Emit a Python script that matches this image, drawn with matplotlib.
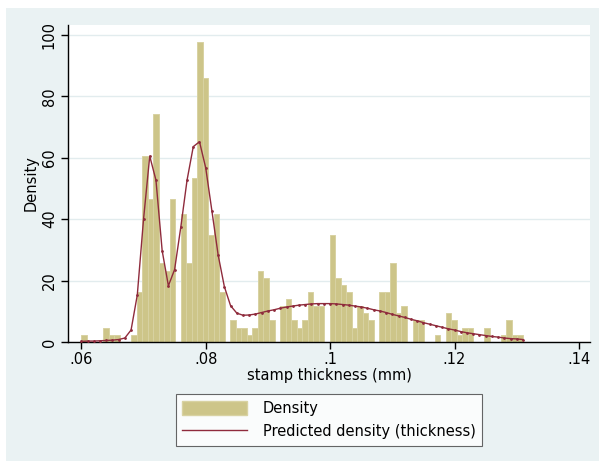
import numpy as np
import matplotlib
matplotlib.use('Agg')
import matplotlib.pyplot as plt
from matplotlib.patches import Rectangle, Patch
from matplotlib.lines import Line2D

# histogram: 80 bins from .060 to .131, heights
bin_start = 0.060
bin_end = 0.131
density = [
    2.3, 0, 0, 0, 4.6, 2.3, 2.3, 0, 0, 2.3,
    16.3, 60.4, 46.5, 74.3, 25.6, 23.2, 46.5, 0, 41.8, 25.6,
    53.4, 97.6, 86.0, 34.8, 41.8, 16.3, 0, 7.0, 4.6, 4.6,
    2.3, 4.6, 23.2, 20.9, 7.0, 0, 11.6, 13.9, 7.0, 4.6,
    7.0, 16.3, 11.6, 11.6, 0, 34.8, 20.9, 18.6, 16.3, 4.6,
    11.6, 9.3, 7.0, 0, 16.3, 16.3, 25.6, 9.3, 11.6, 0,
    7.0, 7.0, 0, 0, 2.3, 0, 9.3, 7.0, 2.3, 4.6,
    4.6, 0, 0, 4.6, 0, 0, 2.3, 7.0, 2.3, 2.3,
]

# predicted density from the mixture model, one point per .001 mm
thickness = [
    .060, .061, .062, .063, .064, .065, .066, .067, .068, .069,
    .070, .071, .072, .073, .074, .075, .076, .077, .078, .079,
    .080, .081, .082, .083, .084, .085, .086, .087, .088, .089,
    .090, .091, .092, .093, .094, .095, .096, .097, .098, .099,
    .100, .101, .102, .103, .104, .105, .106, .107, .108, .109,
    .110, .111, .112, .113, .114, .115, .116, .117, .118, .119,
    .120, .121, .122, .123, .124, .125, .126, .127, .128, .129,
    .130, .131,
]
predicted = [
    0.2, 0.3, 0.3, 0.4, 0.5, 0.6, 0.8, 1.3, 3.9, 15.3,
    39.9, 60.5, 52.7, 29.7, 18.3, 23.6, 37.5, 52.7, 63.6, 65.2,
    56.7, 42.6, 28.3, 18.0, 11.8, 9.4, 8.7, 8.8, 9.1, 9.6,
    10.1, 10.5, 11.0, 11.4, 11.7, 12.0, 12.2, 12.4, 12.5, 12.5,
    12.5, 12.4, 12.2, 12.0, 11.7, 11.4, 11.0, 10.5, 10.1, 9.6,
    9.0, 8.5, 8.0, 7.4, 6.9, 6.3, 5.8, 5.3, 4.8, 4.3,
    3.9, 3.4, 3.0, 2.7, 2.4, 2.1, 1.8, 1.6, 1.3, 1.1,
    1.0, 0.8,
]

xticks = [.06, .08, .10, .12, .14]
xticklabels = ['.06', '.08', '.1', '.12', '.14']
yticks = [0, 20, 40, 60, 80, 100]

bg = '#EAF2F3'
bar_color = '#CDC589'
bar_edge = '#D8D2A2'
line_color = '#8F2B3C'

W, H = 599, 461
fig = plt.figure(figsize=(W / 100, H / 100), dpi=100)
fig.patch.set_facecolor('white')
fig.patches.append(Rectangle((6 / W, 0), 1 - 6 / W, 1 - 8 / H,
                             transform=fig.transFigure, facecolor=bg,
                             edgecolor='none', zorder=-10))

left, right, top, bottom = 68, 590, 25, 342
ax = fig.add_axes([left / W, (H - bottom) / H, (right - left) / W, (bottom - top) / H])
ax.set_facecolor('white')

edges = np.linspace(bin_start, bin_end, len(density) + 1)
width = edges[1] - edges[0]
ax.bar(edges[:-1], density, width=width, align='edge', color=bar_color,
       edgecolor=bar_edge, linewidth=0.7, zorder=2)
ax.plot(thickness, predicted, color=line_color, lw=1.0, marker='o',
        markersize=1.0, zorder=3)

ax.set_xlim(0.05786, 0.14178)
ax.set_ylim(0, 103.2)
ax.set_xticks(xticks)
ax.set_xticklabels(xticklabels, fontsize=10.5)
ax.set_yticks(yticks)
ax.set_yticklabels([str(v) for v in yticks], fontsize=10.5, rotation=90, va='center')
ax.yaxis.grid(True, color='#E2ECEE', lw=1.0, zorder=0)
ax.set_axisbelow(True)
for s in ['top', 'right']:
    ax.spines[s].set_visible(False)
ax.spines['left'].set_linewidth(1.0)
ax.spines['bottom'].set_linewidth(1.0)
ax.tick_params(direction='out', length=5, width=1.0, pad=3)
ax.tick_params(axis='x', pad=2)
ax.set_xlabel('stamp thickness (mm)', fontsize=10.5, labelpad=1)
ax.set_ylabel('Density', fontsize=10.5, labelpad=2)

handles = [Patch(facecolor=bar_color, edgecolor=bar_edge),
           Line2D([], [], color=line_color, lw=1.0)]
leg = fig.legend(handles, ['Density', 'Predicted density (thickness)'],
                 loc='center', bbox_to_anchor=(329 / W, 1 - 420 / H),
                 fontsize=10.5, frameon=True, fancybox=False, handlelength=4.4,
                 handleheight=1.1, borderpad=0.45, labelspacing=0.55,
                 handletextpad=1.1, borderaxespad=0)
leg.get_frame().set_edgecolor('#404040')
leg.get_frame().set_linewidth(0.8)

fig.savefig('out.png', dpi=100, facecolor=fig.get_facecolor())
